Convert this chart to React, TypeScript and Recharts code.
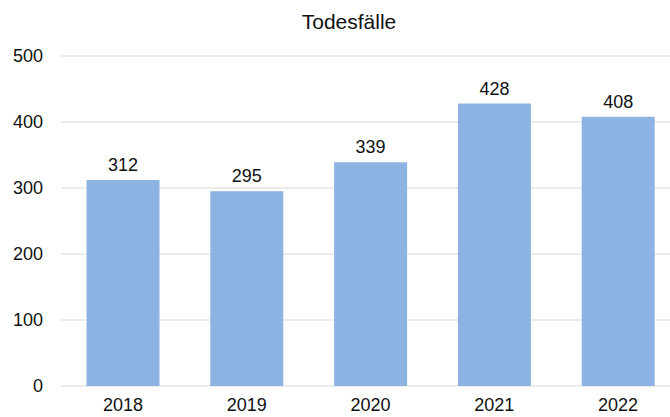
import { Bar, BarChart, CartesianGrid, LabelList, XAxis, YAxis } from "recharts";

const years = ["2018", "2019", "2020", "2021", "2022"];
const deaths = [312, 295, 339, 428, 408];
const yTicks = [0, 100, 200, 300, 400, 500];

const data = years.map((year, i) => ({ year, deaths: deaths[i] }));

const FONT = "'Liberation Sans', Arial, Helvetica, sans-serif";

export default function App() {
  return (
    <div
      style={{
        position: "fixed",
        left: 0,
        top: 0,
        width: 670,
        height: 417,
        overflow: "hidden",
        background: "#fff",
        fontFamily: FONT,
      }}
    >
      <div
        style={{
          position: "absolute",
          left: 0,
          top: 11,
          width: 698,
          textAlign: "center",
          fontSize: 21,
          lineHeight: "21px",
          color: "#111",
          zIndex: 1,
        }}
      >
        Todesfälle
      </div>
      <BarChart
        width={680}
        height={417}
        data={data}
        margin={{ top: 56, right: 0, bottom: 0, left: 0 }}
        barCategoryGap="20.6%"
      >
        <CartesianGrid vertical={false} stroke="#d9d9d9" strokeWidth={1.2} />
        <XAxis
          dataKey="year"
          height={31}
          axisLine={false}
          tickLine={false}
          tickSize={0}
          tickMargin={12}
          tick={{ fill: "#111", fontSize: 18, fontFamily: FONT }}
        />
        <YAxis
          width={61}
          domain={[0, 500]}
          ticks={yTicks}
          axisLine={false}
          tickLine={false}
          tickSize={0}
          tickMargin={18}
          tick={{ fill: "#111", fontSize: 18, fontFamily: FONT }}
        />
        <Bar dataKey="deaths" fill="#8db3e2" isAnimationActive={false}>
          <LabelList
            dataKey="deaths"
            position="top"
            offset={9}
            style={{ fill: "#111", fontSize: 18, fontFamily: FONT }}
          />
        </Bar>
      </BarChart>
    </div>
  );
}
